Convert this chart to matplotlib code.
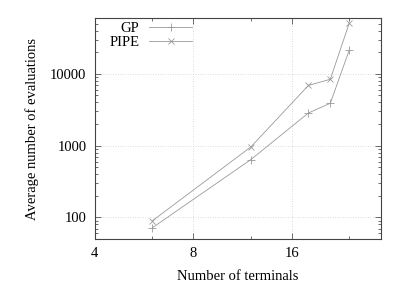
import matplotlib
matplotlib.use("Agg")
import matplotlib.pyplot as plt
from matplotlib.ticker import FixedLocator, NullFormatter, LogLocator

# data
terminals = [6, 12, 18, 21, 24]
gp_evals = [72, 640, 2850, 3900, 21400]
pipe_evals = [90, 960, 6900, 8400, 51000]
x_ticks = [4, 8, 16]
y_ticks = [100, 1000, 10000]

plt.rcParams['font.family'] = ['Liberation Serif', 'DejaVu Serif']
plt.rcParams['font.size'] = 10.5

fig = plt.figure(figsize=(4.07, 2.85), dpi=100)
ax = fig.add_axes([0.233, 0.161, 0.703, 0.776])

ax.plot(terminals, gp_evals, color="#999999", lw=0.6, marker="+", ms=6, mew=0.6, label="GP")
ax.plot(terminals, pipe_evals, color="#999999", lw=0.6, marker="x", ms=5, mew=0.6, label="PIPE")

ax.set_xscale("log", base=2)
ax.set_yscale("log")
ax.set_xlim(4, 30)
ax.set_ylim(50, 60000)

ax.xaxis.set_major_locator(FixedLocator(x_ticks))
ax.set_xticklabels([str(v) for v in x_ticks])
ax.xaxis.set_minor_locator(FixedLocator([6, 12, 24]))
ax.xaxis.set_minor_formatter(NullFormatter())
ax.yaxis.set_major_locator(FixedLocator(y_ticks))
ax.set_yticklabels([str(v) for v in y_ticks])
ax.yaxis.set_minor_locator(LogLocator(base=10, subs=range(2, 10)))
ax.yaxis.set_minor_formatter(NullFormatter())

ax.tick_params(which="both", direction="in", top=True, right=True, color="#555555", width=0.6)
ax.tick_params(which="major", length=4, pad=6)
ax.tick_params(which="minor", length=2)
for s in ax.spines.values():
    s.set_linewidth(0.8)
    s.set_color("#444444")

ax.grid(True, which="major", color="#d0d0d0", ls=(0, (1, 2)), lw=0.6)

ax.set_xlabel("Number of terminals", labelpad=7)
ax.set_ylabel("Average number of evaluations", labelpad=8)

ax.legend(loc="upper left", frameon=False, markerfirst=False, handlelength=2.95,
          handletextpad=0.7, borderaxespad=0.0, labelspacing=0.05, bbox_to_anchor=(0.03, 1.01))

fig.savefig("out.png", dpi=100)
